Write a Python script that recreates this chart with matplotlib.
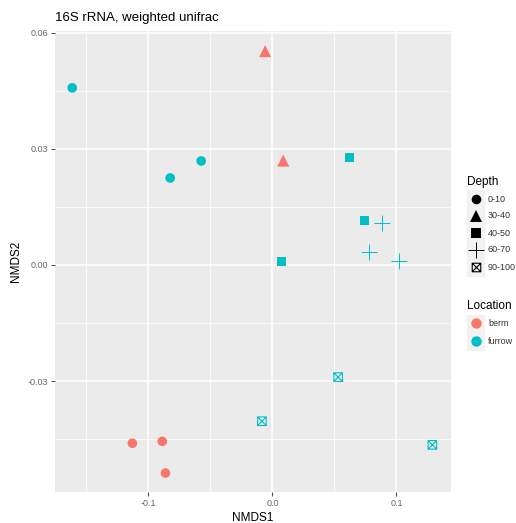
import numpy as np
import matplotlib.pyplot as plt
from matplotlib.path import Path
from matplotlib.patches import Rectangle
from matplotlib.lines import Line2D

plt.rcParams['font.family'] = ['Liberation Sans', 'DejaVu Sans']

# NMDS coordinates per sample
nmds1 = [-0.1615, -0.0825, -0.0575, 0.0087, -0.0059, 0.0620, 0.0740, 0.0070,
         0.0882, 0.0777, 0.1024, 0.0530, -0.0085, 0.1290, -0.1130, -0.0889, -0.0863]
nmds2 = [0.0458, 0.0225, 0.0269, 0.0270, 0.0553, 0.0279, 0.0115, 0.0010,
         0.0108, 0.0034, 0.0009, -0.0290, -0.0404, -0.0465, -0.0461, -0.0456, -0.0538]
depth = ['0-10', '0-10', '0-10', '30-40', '30-40', '40-50', '40-50', '40-50',
         '60-70', '60-70', '60-70', '90-100', '90-100', '90-100', '0-10', '0-10', '0-10']
location = ['furrow', 'furrow', 'furrow', 'berm', 'berm', 'furrow', 'furrow', 'furrow',
            'furrow', 'furrow', 'furrow', 'furrow', 'furrow', 'furrow', 'berm', 'berm', 'berm']

depth_levels = ['0-10', '30-40', '40-50', '60-70', '90-100']
loc_levels = ['berm', 'furrow']
loc_colors = {'berm': '#F8766D', 'furrow': '#00BFC4'}

# square with an X inside (ggplot shape 7)
boxx = Path([(-1, -1), (1, -1), (1, 1), (-1, 1), (-1, -1), (-1, -1), (1, 1), (-1, 1), (1, -1)],
            [Path.MOVETO, Path.LINETO, Path.LINETO, Path.LINETO, Path.CLOSEPOLY,
             Path.MOVETO, Path.LINETO, Path.MOVETO, Path.LINETO])
depth_style = {
    '0-10': dict(marker='o', s=48, kind='filled'),
    '30-40': dict(marker='^', s=75, kind='filled'),
    '40-50': dict(marker='s', s=42, kind='filled'),
    '60-70': dict(marker='+', s=130, kind='line'),
    '90-100': dict(marker=boxx, s=38, kind='open'),
}

W, H = 516, 523
fig = plt.figure(figsize=(W / 100, H / 100), dpi=100)


def fx(px):
    return px / W


def fy(py):
    return 1 - py / H


ax = fig.add_axes([fx(55), fy(492), fx(451) - fx(55), fy(31) - fy(492)])
ax.set_facecolor('#EBEBEB')
for sp in ax.spines.values():
    sp.set_visible(False)

ax.set_xlim(-0.1754, 0.1440)
ax.set_ylim(-0.0587, 0.0605)
ax.set_xticks([-0.1, 0.0, 0.1])
ax.set_xticklabels(['-0.1', '0.0', '0.1'])
ax.set_yticks([-0.03, 0.0, 0.03, 0.06])
ax.set_yticklabels(['-0.03', '0.00', '0.03', '0.06'])
ax.set_xticks([-0.15, -0.05, 0.05], minor=True)
ax.set_yticks([-0.045, -0.015, 0.015, 0.045], minor=True)
ax.grid(True, which='major', color='white', linewidth=1.1)
ax.grid(True, which='minor', color='white', linewidth=0.55)
ax.set_axisbelow(True)
ax.tick_params(which='major', length=3, width=0.8, color='#555555',
               labelsize=6.5, labelcolor='#666666', pad=2)
ax.tick_params(which='minor', length=0)

ax.set_xlabel('NMDS1', fontsize=8.5, labelpad=3)
ax.set_ylabel('NMDS2', fontsize=8.5, labelpad=4)
ax.set_title('16S rRNA, weighted unifrac', fontsize=9.5, loc='left', pad=7)

x = np.array(nmds1)
y = np.array(nmds2)
d = np.array(depth)
loc = np.array(location)
for dl in depth_levels:
    st = depth_style[dl]
    for ll in loc_levels:
        m = (d == dl) & (loc == ll)
        if not m.any():
            continue
        c = loc_colors[ll]
        if st['kind'] == 'filled':
            ax.scatter(x[m], y[m], marker=st['marker'], s=st['s'], color=c,
                       edgecolors='none', zorder=3)
        elif st['kind'] == 'line':
            ax.scatter(x[m], y[m], marker=st['marker'], s=st['s'], color=c,
                       linewidths=0.7, zorder=3)
        else:
            ax.scatter(x[m], y[m], marker=st['marker'], s=st['s'], facecolors='none',
                       edgecolors=c, linewidths=0.8, zorder=3)

# legends drawn by hand, ggplot style
key_bg = '#F2F2F2'
fig.text(fx(467), fy(182), 'Depth', fontsize=8.5, va='center', ha='left')
for i, dl in enumerate(depth_levels):
    cy = 199 + i * 17
    fig.patches.append(Rectangle((fx(467), fy(cy + 8.5)), fx(17), 17 / H,
                                 transform=fig.transFigure, color=key_bg, zorder=1))
    st = depth_style[dl]
    ms = np.sqrt(st['s'])
    if st['kind'] == 'filled':
        ln = Line2D([fx(475.5)], [fy(cy)], marker=st['marker'], markersize=ms,
                    color='black', markeredgewidth=0, linestyle='none',
                    transform=fig.transFigure)
    elif st['kind'] == 'line':
        ln = Line2D([fx(475.5)], [fy(cy)], marker=st['marker'], markersize=ms,
                    color='black', markeredgewidth=0.7, linestyle='none',
                    transform=fig.transFigure)
    else:
        ln = Line2D([fx(475.5)], [fy(cy)], marker=st['marker'], markersize=ms,
                    markerfacecolor='none', markeredgecolor='black', markeredgewidth=0.8,
                    linestyle='none', transform=fig.transFigure)
    fig.lines.append(ln)
    fig.text(fx(488), fy(cy), dl, fontsize=6.5, va='center', ha='left', color='#333333')

fig.text(fx(467), fy(306), 'Location', fontsize=8.5, va='center', ha='left')
for i, ll in enumerate(loc_levels):
    cy = 323 + i * 18
    fig.patches.append(Rectangle((fx(467), fy(cy + 8.5)), fx(17), 17 / H,
                                 transform=fig.transFigure, color=key_bg, zorder=1))
    fig.lines.append(Line2D([fx(475.5)], [fy(cy)], marker='o', markersize=7.5,
                            color=loc_colors[ll], markeredgewidth=0, linestyle='none',
                            transform=fig.transFigure))
    fig.text(fx(488), fy(cy), ll, fontsize=6.5, va='center', ha='left', color='#333333')

fig.savefig('out.png', dpi=100, facecolor='white')
